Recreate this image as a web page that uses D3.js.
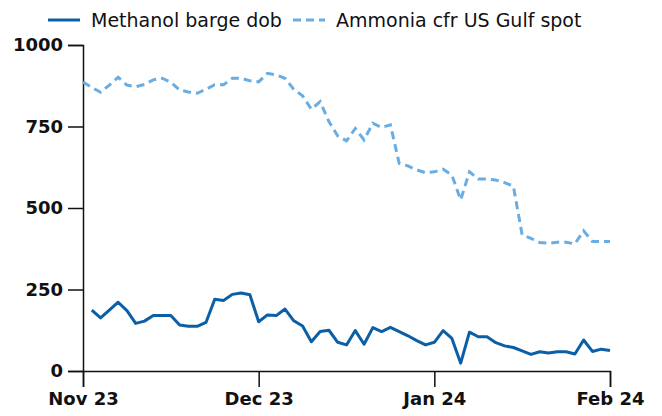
<!DOCTYPE html>
<html>
<head>
<meta charset="utf-8">
<script src="https://cdn.jsdelivr.net/npm/d3@7"></script>
<style>
  body { margin: 0; background: #fff; }
  svg { display: block; }
</style>
</head>
<body>
<div id="grafica"></div>
<script>
var methanol = [null, 187, 163, 187, 211, 185, 146, 153, 170, 170,
                170, 141, 137, 137, 149, 220, 216, 235, 239, 234,
                151, 172, 170, 190, 154, 138, 90, 121, 125, 88,
                80, 124, 82, 133, 121, 134, 121, 108, 93, 80,
                88, 124, 100, 24, 119, 105, 105, 87, 77, 72,
                62, 51, 59, 55, 59, 59, 52, 95, 60, 67,
                63];

var ammonia = [886, 870, 855, 877, 901, 877, 872, 879, 893, 898,
               886, 862, 856, 852, 864, 878, 878, 898, 898, 890,
               887, 913, 908, 898, 864, 844, 803, 826, 765, 721,
               706, 744, 709, 760, 747, 755, 637, 629, 617, 608,
               611, 619, 601, 525, 611, 589, 589, 586, 578, 567,
               417, 407, 394, 392, 395, 395, 390, 430, 397, 397,
               397];

var tickIdx = [0, 20, 40, 60],
    tickLabels = ["Nov 23", "Dec 23", "Jan 24", "Feb 24"];

var yTicks = [0, 250, 500, 750, 1000];

var seriesNames = ["Methanol barge dob", "Ammonia cfr US Gulf spot"],
    colors = ["#0b5fa6", "#69ade2"];

// set the dimensions and margins of the graph
var w_full = 662,
    h_full = 416;

var margin = {
        top: 45,
        right: 52,
        bottom: 45,
        left: 83
    };

var w = w_full - margin.left - margin.right,
    h = h_full - margin.top - margin.bottom;

var svg = d3.select("#grafica")
            .append("svg")
            .attr("width", w_full)
            .attr("height", h_full);

var g = svg.append("g")
           .attr("transform", "translate(" + margin.left + "," + margin.top + ")");

var x = d3.scaleLinear()
          .domain([0, methanol.length - 1])
          .range([0, w]);

var y = d3.scaleLinear()
          .domain([0, 1000])
          .range([h, 0]);

// y axis
var yAxis = g.append("g")
    .call(d3.axisLeft(y)
        .tickValues(yTicks)
        .tickFormat(d3.format("d"))
        .tickSize(15)
        .tickPadding(5));

// x axis
var xAxis = g.append("g")
    .attr("transform", "translate(0," + h + ")")
    .call(d3.axisBottom(x)
        .tickValues(tickIdx)
        .tickFormat(function(d, i) { return tickLabels[i]; })
        .tickSize(16)
        .tickPadding(5));

[yAxis, xAxis].forEach(function(a) {
    a.selectAll("path, line")
        .attr("stroke", "#111")
        .attr("stroke-width", 1.5);
    a.selectAll("text")
        .attr("fill", "#111")
        .style("font-family", "DejaVu Sans, sans-serif")
        .style("font-weight", "bold")
        .style("font-size", "18px");
});

// lines
var line = d3.line()
    .defined(function(d) { return d !== null; })
    .x(function(d, i) { return x(i); })
    .y(function(d) { return y(d); });

g.append("path")
    .datum(ammonia)
    .attr("fill", "none")
    .attr("stroke", colors[1])
    .attr("stroke-width", 3)
    .attr("stroke-dasharray", "8,5")
    .attr("d", line);

g.append("path")
    .datum(methanol)
    .attr("fill", "none")
    .attr("stroke", colors[0])
    .attr("stroke-width", 3)
    .attr("stroke-linejoin", "round")
    .attr("d", line);

// legend
var legX = [48, 293],
    legY = 20;

seriesNames.forEach(function(name, i) {
    svg.append("line")
        .attr("x1", legX[i])
        .attr("x2", legX[i] + 32)
        .attr("y1", legY)
        .attr("y2", legY)
        .attr("stroke", colors[i])
        .attr("stroke-width", 3)
        .attr("stroke-dasharray", i == 1 ? "8,5" : null);
    svg.append("text")
        .attr("x", legX[i] + 43)
        .attr("y", legY)
        .attr("dy", "0.35em")
        .attr("fill", "#111")
        .style("font-family", "DejaVu Sans, sans-serif")
        .style("font-size", "19px")
        .text(name);
});
</script>
</body>
</html>
